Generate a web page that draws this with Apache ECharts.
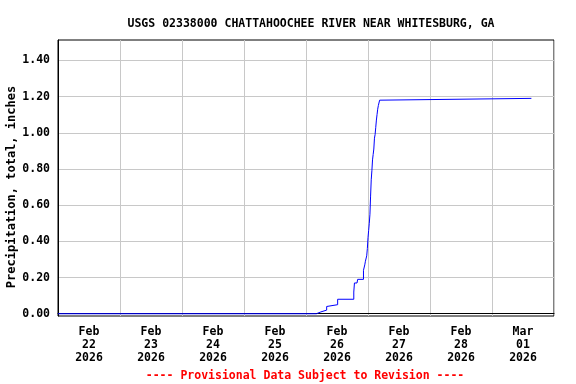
<!DOCTYPE html>
<html>
<head>
<meta charset="utf-8">
<script src="https://cdn.jsdelivr.net/npm/echarts@6/dist/echarts.min.js"></script>
<style>
html,body{margin:0;padding:0;background:#fff;}
#chart{width:576px;height:384px;}
</style>
</head>
<body>
<div id="chart"></div>
<script>
// ---- data (times in UTC, value = cumulative precipitation in inches; each point = new value from that time) ----
var times = [
  "2026-02-22 00:00",
  "2026-02-26 04:00","2026-02-26 05:45","2026-02-26 08:00","2026-02-26 08:15",
  "2026-02-26 12:15","2026-02-26 18:30","2026-02-26 18:45","2026-02-26 19:45",
  "2026-02-26 20:00","2026-02-26 22:15","2026-02-26 22:30","2026-02-26 22:45",
  "2026-02-26 23:00","2026-02-26 23:15","2026-02-26 23:30","2026-02-26 23:45",
  "2026-02-27 00:00","2026-02-27 00:15","2026-02-27 00:30","2026-02-27 00:45",
  "2026-02-27 01:00","2026-02-27 01:15","2026-02-27 01:30","2026-02-27 01:45",
  "2026-02-27 02:00","2026-02-27 02:15","2026-02-27 02:30","2026-02-27 02:45",
  "2026-02-27 03:00","2026-02-27 03:15","2026-02-27 03:30","2026-02-27 03:45",
  "2026-02-27 04:00","2026-02-27 04:15","2026-02-27 04:30","2026-02-27 04:45",
  "2026-03-01 15:15"
];
var precip = [
  0.00,
  0.01, 0.02, 0.04, 0.05,
  0.08, 0.12, 0.17, 0.18,
  0.19, 0.24, 0.25, 0.27,
  0.29, 0.30, 0.32, 0.36,
  0.42, 0.46, 0.50, 0.55,
  0.65, 0.74, 0.79, 0.85,
  0.88, 0.91, 0.97, 0.99,
  1.03, 1.07, 1.10, 1.13,
  1.15, 1.16, 1.18, 1.19,
  1.19
];
var dayTicks = ["2026-02-22","2026-02-23","2026-02-24","2026-02-25","2026-02-26","2026-02-27","2026-02-28","2026-03-01","2026-03-02"];
var dayLabels = ["2026-02-22 12:00","2026-02-23 12:00","2026-02-24 12:00","2026-02-25 12:00","2026-02-26 12:00","2026-02-27 12:00","2026-02-28 12:00","2026-03-01 12:00"];
var yTicks = [0, 0.2, 0.4, 0.6, 0.8, 1.0, 1.2, 1.4];
var titleText = "USGS 02338000 CHATTAHOOCHEE RIVER NEAR WHITESBURG, GA";
var yName = "Precipitation, total, inches";
var footer = "---- Provisional Data Subject to Revision ----";

function toMs(s){
  var p = s.split(/[- :]/);
  return Date.UTC(+p[0], +p[1]-1, +p[2], +(p[3]||0), +(p[4]||0));
}
var MONTHS = ["Jan","Feb","Mar","Apr","May","Jun","Jul","Aug","Sep","Oct","Nov","Dec"];
// cumulative value holds until the next reading: add a point at each reading time with the previous value
var seriesData = [];
times.forEach(function(t,i){
  var ms = toMs(t);
  if (i > 0 && precip[i] !== precip[i-1]) seriesData.push([ms, precip[i-1]]);
  seriesData.push([ms, precip[i]]);
});
var FONT = "'DejaVu Sans Mono', monospace";

var chart = echarts.init(document.getElementById('chart'), null, {renderer:'canvas'});
chart.setOption({
  animation: false,
  backgroundColor: '#fff',
  title: {
    text: titleText, left: 306, textAlign: 'center', top: 13,
    textStyle: {fontFamily: FONT, fontSize: 11.5, fontWeight: 'bold', color: '#000'}
  },
  grid: {left: 58, right: 22, top: 40, bottom: 68, show: true, borderColor: '#000', borderWidth: 1, backgroundColor: '#fff'},
  xAxis: {
    type: 'value',
    min: toMs(dayTicks[0]), max: toMs(dayTicks[dayTicks.length-1]),
    axisLine: {show: true, lineStyle: {color: '#000', width: 1}},
    axisTick: {show: false, customValues: dayTicks.map(toMs)},
    splitLine: {show: true, lineStyle: {color: '#c8c8c8', width: 1}},
    axisLabel: {
      customValues: dayLabels.map(toMs),
      margin: 10, lineHeight: 13,
      fontFamily: FONT, fontSize: 11.5, fontWeight: 'bold', color: '#000',
      formatter: function(v){
        var d = new Date(v);
        var dd = d.getUTCDate(); dd = (dd < 10 ? '0' : '') + dd;
        return MONTHS[d.getUTCMonth()] + '\n' + dd + '\n' + d.getUTCFullYear();
      }
    }
  },
  yAxis: {
    type: 'value', min: -0.0125, max: 1.5125,
    axisLine: {show: true, lineStyle: {color: '#000', width: 1}},
    axisTick: {show: false, customValues: yTicks},
    splitLine: {show: true, lineStyle: {color: '#c8c8c8', width: 1}},
    axisLabel: {
      customValues: yTicks, margin: 8,
      fontFamily: FONT, fontSize: 11.5, fontWeight: 'bold', color: '#000',
      formatter: function(v){ return v.toFixed(2); }
    }
  },
  series: [{
    type: 'line', data: seriesData, showSymbol: false,
    lineStyle: {color: '#0000ff', width: 1}, silent: true
  }],
  graphic: [
    {type: 'text', x: 12, y: 187, rotation: Math.PI/2,
     style: {text: yName, fontFamily: FONT, fontSize: 12, fontWeight: 'bold', fill: '#000', align: 'center', verticalAlign: 'middle'}},
    {type: 'text', x: 305, y: 376,
     style: {text: footer, fontFamily: FONT, fontSize: 11.5, fontWeight: 'bold', fill: '#ff0000', align: 'center', verticalAlign: 'middle'}}
  ]
});
</script>
</body>
</html>
